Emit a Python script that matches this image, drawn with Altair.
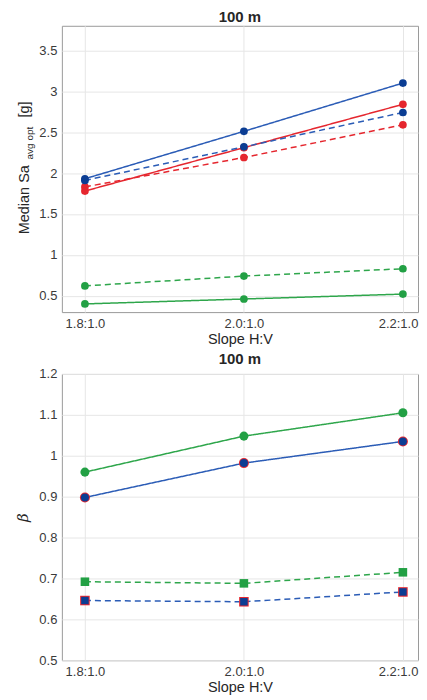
import altair as alt
import pandas as pd

slope_hv = [1.8, 2.0, 2.2]
slope_labels = ["1.8:1.0", "2.0:1.0", "2.2:1.0"]

# Top panel: Median Sa_avg,opt [g]
top_green_solid = [0.40, 0.46, 0.52]
top_green_dashed = [0.62, 0.74, 0.83]
top_red_dashed = [1.83, 2.19, 2.59]
top_red_solid = [1.78, 2.31, 2.84]
top_blue_dashed = [1.91, 2.32, 2.74]
top_blue_solid = [1.93, 2.51, 3.10]

# Bottom panel: beta
bot_red_solid = [0.898, 0.982, 1.035]
bot_red_dashed = [0.646, 0.643, 0.667]
bot_green_solid = [0.960, 1.048, 1.105]
bot_green_dashed = [0.692, 0.688, 0.715]
bot_blue_solid = [0.898, 0.982, 1.035]
bot_blue_dashed = [0.646, 0.643, 0.667]


def long(series):
    rows = []
    for (group, style), vals in series:
        for s, v in zip(slope_hv, vals):
            rows.append({"slope": s, "value": v, "group": group, "style": style,
                         "series": f"{group}_{style}"})
    return pd.DataFrame(rows)


top_df = long([
    (("green", "solid"), top_green_solid),
    (("green", "dashed"), top_green_dashed),
    (("red", "dashed"), top_red_dashed),
    (("red", "solid"), top_red_solid),
    (("blue", "dashed"), top_blue_dashed),
    (("blue", "solid"), top_blue_solid),
])
bot_df = long([
    (("red", "solid"), bot_red_solid),
    (("red", "dashed"), bot_red_dashed),
    (("green", "solid"), bot_green_solid),
    (("green", "dashed"), bot_green_dashed),
    (("blue", "solid"), bot_blue_solid),
    (("blue", "dashed"), bot_blue_dashed),
])

FONT = "Liberation Sans"
groups = ["blue", "red", "green"]
line_colors = ["#2b5cb6", "#e5262e", "#2ea64b"]
marker_colors = ["#0b3d93", "#e5262e", "#22a044"]
dash_scale = alt.Scale(domain=["solid", "dashed"], range=[[1, 0], [6, 4]])

W, H = 357, 287

label_expr = " : ".join(
    f"abs(datum.value - {v}) < 0.01 ? '{lab}'" for v, lab in zip(slope_hv, slope_labels)
) + " : ''"

x_enc = alt.X("slope:Q",
              scale=alt.Scale(domain=[1.771, 2.219], nice=False, zero=False),
              axis=alt.Axis(title="Slope H:V", values=slope_hv, labelExpr=label_expr,
                            labelFlush=18, labelFlushOffset=15))

stroke_enc = alt.Stroke("group:N", scale=alt.Scale(domain=groups, range=line_colors), legend=None)
fill_enc = alt.Fill("group:N", scale=alt.Scale(domain=groups, range=marker_colors), legend=None)
dash_enc = alt.StrokeDash("style:N", scale=dash_scale, legend=None)

# ---- top panel
y_top = alt.Y("value:Q",
              scale=alt.Scale(domain=[0.3, 3.8], nice=False, zero=False),
              axis=alt.Axis(title=None, values=[0.5, 1, 1.5, 2, 2.5, 3, 3.5], format=".1~f"))

top_base = alt.Chart(top_df)
top_lines = top_base.mark_line(strokeWidth=1.5).encode(
    x=x_enc, y=y_top, stroke=stroke_enc, strokeDash=dash_enc, detail="series:N")
top_points = top_base.mark_point(filled=True, opacity=1, size=60, shape="circle").encode(
    x=x_enc, y=y_top, fill=fill_enc)

lab_df = pd.DataFrame({"t": ["Median Sa"]})
sub_df = pd.DataFrame({"t": ["avg opt"]})
unit_df = pd.DataFrame({"t": ["[g]"]})
ylab1 = alt.Chart(lab_df).mark_text(angle=270, align="left", baseline="middle", font=FONT,
                                    fontSize=14.5, color="#262626").encode(
    text="t:N", x=alt.value(-37), y=alt.value(209))
ylab2 = alt.Chart(sub_df).mark_text(angle=270, align="left", baseline="middle", font=FONT,
                                    fontSize=10, color="#262626").encode(
    text="t:N", x=alt.value(-32), y=alt.value(134))
ylab3 = alt.Chart(unit_df).mark_text(angle=270, align="left", baseline="middle", font=FONT,
                                     fontSize=14.5, color="#262626").encode(
    text="t:N", x=alt.value(-37), y=alt.value(92))

title_params = dict(fontSize=15, fontWeight="bold", font=FONT, color="#262626", offset=1)

top = alt.layer(top_lines, top_points, ylab1, ylab2, ylab3).properties(
    width=W, height=H, title=alt.TitleParams("100 m", **title_params))

# ---- bottom panel
y_bot = alt.Y("value:Q",
              scale=alt.Scale(domain=[0.5, 1.2], nice=False, zero=False),
              axis=alt.Axis(title="β", values=[0.5, 0.6, 0.7, 0.8, 0.9, 1.0, 1.1, 1.2],
                            format=".1~f", titleFont="DejaVu Serif", titleFontStyle="italic",
                            titleFontSize=15, titlePadding=8))

series_keys = ["red_solid", "red_dashed", "green_solid", "green_dashed", "blue_solid", "blue_dashed"]
size_range = [100, 56, 40, 28, 52, 28]
shape_enc = alt.Shape("style:N", scale=alt.Scale(domain=["solid", "dashed"], range=["circle", "square"]), legend=None)
size_enc = alt.Size("series:N", scale=alt.Scale(domain=series_keys, range=size_range), legend=None)

bot_base = alt.Chart(bot_df)
# red series lie exactly under the blue ones: only their markers show as a red rim
bot_lines = bot_base.transform_filter(alt.datum.group != "red").mark_line(strokeWidth=1.5).encode(
    x=x_enc, y=y_bot, stroke=stroke_enc, strokeDash=dash_enc, detail="series:N")
bot_red_pts = bot_base.transform_filter(alt.datum.group == "red").mark_point(
    filled=True, opacity=1).encode(x=x_enc, y=y_bot, fill=fill_enc, shape=shape_enc, size=size_enc)
bot_other_pts = bot_base.transform_filter(alt.datum.group != "red").mark_point(
    filled=True, opacity=1).encode(x=x_enc, y=y_bot, fill=fill_enc, shape=shape_enc, size=size_enc)

bottom = alt.layer(bot_lines, bot_red_pts, bot_other_pts).properties(
    width=W, height=H, title=alt.TitleParams("100 m", **title_params))

chart = alt.vconcat(top, bottom, spacing=5).properties(
    padding={"left": 7, "top": 0, "right": 0, "bottom": 0}
).configure_view(
    stroke="#9a9a9a", strokeWidth=1
).configure_axis(
    grid=True, gridColor="#e6e6e6", gridWidth=1, domain=False, ticks=False, tickSize=0,
    labelFont=FONT, labelFontSize=13, labelColor="#3a3a3a", labelPadding=5,
    titleFont=FONT, titleFontSize=14.5, titleFontWeight="normal", titleColor="#262626",
    titlePadding=2
)

chart.save("out.html", embed_options={"renderer": "svg", "actions": False})
